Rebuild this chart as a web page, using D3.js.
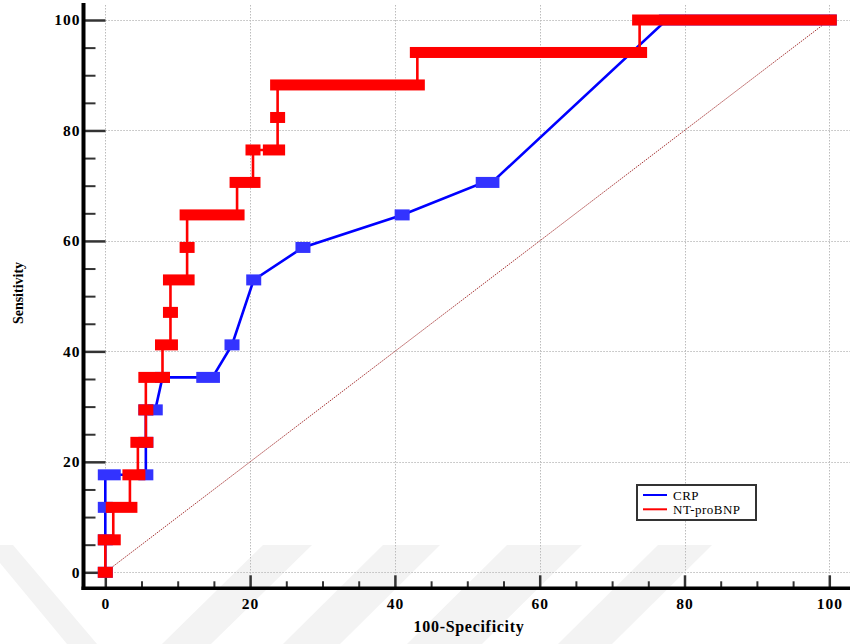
<!DOCTYPE html>
<html>
<head>
<meta charset="utf-8">
<script src="https://cdn.jsdelivr.net/npm/d3@7"></script>
<style>
  html, body { margin: 0; padding: 0; background: #fff; }
  svg { display: block; }
  text { font-family: "Liberation Serif", "Times New Roman", serif; }
</style>
</head>
<body>
<svg id="chart" width="850" height="644"></svg>
<script>
// ---------------- data ----------------
// NT-proBNP: horizontal runs of markers (sensitivity, from 100-spec, to 100-spec)
const ntSens = [0, 5.88, 11.76, 17.65, 23.53, 29.41, 35.29, 41.18, 47.06, 52.94, 58.82, 64.71, 70.59, 76.47, 76.47, 82.35, 88.24, 94.12, 100];
const ntFrom = [0, 0,    1.1,   3.4,   4.5,   5.6,   5.6,   7.9,   9.0,   9.0,   11.3,  11.3,  18.2,  20.4,  22.8,  23.8,  23.8,  43.1,  73.8];
const ntTo   = [0, 1.1,  3.4,   4.5,   5.6,   5.6,   7.9,   9.0,   9.0,   11.3,  11.3,  18.2,  20.4,  20.4,  23.8,  23.8,  43.1,  73.8,  100];

// CRP: runs of markers (sensitivity, from, to)
const crpSens = [0, 5.88, 11.76, 17.65, 17.65, 23.53, 29.41, 29.41, 35.29, 35.29, 41.18, 52.94, 58.82, 64.71, 70.59, 100];
const crpFrom = [0, 0,    0,     0,     5.6,   5.6,   5.6,   6.9,   7.9,   13.6,  17.5,  20.5,  27.3,  41.0,  52.2,  77.5];
const crpTo   = [0, 0,    0,     1.1,   5.6,   5.6,   5.6,   6.9,   7.9,   14.8,  17.5,  20.5,  27.3,  41.0,  53.4,  100];

const majorTicks = [0, 20, 40, 60, 80, 100];
const minorTicks = [5, 10, 15, 25, 30, 35, 45, 50, 55, 65, 70, 75, 85, 90, 95];
const seriesNames = ["CRP", "NT-proBNP"];
const seriesColors = ["#0000ff", "#ff0000"];
const markerColors = ["#3333ff", "#ff0000"];
const xTitle = "100-Specificity";
const yTitle = "Sensitivity";

// ---------------- drawing ----------------
const svg = d3.select("#chart");
const x = d3.scaleLinear().domain([0, 100]).range([105.3, 829.3]);
const y = d3.scaleLinear().domain([0, 100]).range([572.3, 20]);
const axisX = 83.5, axisY = 588.3;

// watermark stripes (faint background decoration)
const stripes = [
  [[-15, 545], [13, 545], [97, 644], [67, 644]],
  [[263, 545], [312, 545], [211, 644], [162, 644]],
  [[383, 545], [440, 545], [340, 644], [283, 644]],
  [[507, 545], [582, 545], [482, 644], [407, 644]],
  [[658, 545], [712, 545], [612, 644], [558, 644]]
];
svg.append("g").selectAll("polygon").data(stripes).join("polygon")
  .attr("points", d => d.map(p => p.join(",")).join(" "))
  .attr("fill", "#f3f3f3");

// grid
const grid = svg.append("g").attr("stroke", "#bcbcbc").attr("stroke-width", 1).attr("stroke-dasharray", "1.5,1.5");
grid.selectAll(".gy").data(majorTicks).join("line")
  .attr("x1", x(0)).attr("x2", 850)
  .attr("y1", d => Math.round(y(d)) + 0.5).attr("y2", d => Math.round(y(d)) + 0.5);
grid.selectAll(".gx").data(majorTicks).join("line")
  .attr("y1", 5).attr("y2", axisY - 13)
  .attr("x1", d => Math.round(x(d)) + 0.5).attr("x2", d => Math.round(x(d)) + 0.5);

// diagonal reference line
svg.append("line")
  .attr("x1", x(0)).attr("y1", y(0)).attr("x2", x(100)).attr("y2", y(100))
  .attr("stroke", "#a83838").attr("stroke-width", 1).attr("stroke-dasharray", "1.5,1");

// axes
const yMajor = d3.axisLeft(y).tickValues(majorTicks).tickSize(-22).tickPadding(3).tickFormat(d3.format("d"));
const yMinor = d3.axisLeft(y).tickValues(minorTicks).tickSize(-12).tickFormat("");
const xMajor = d3.axisBottom(x).tickValues(majorTicks).tickSize(-13).tickPadding(10).tickFormat(d3.format("d"));
const xMinor = d3.axisBottom(x).tickValues(minorTicks).tickSize(-7).tickFormat("");

function styleAxis(g, w) {
  g.select(".domain").remove();
  g.selectAll(".tick line").attr("stroke", "#333").attr("stroke-width", w);
  g.selectAll(".tick text")
    .attr("fill", "#000")
    .style("font-family", "'Liberation Serif', 'Times New Roman', serif")
    .style("font-weight", "bold")
    .style("font-size", "15.5px")
    .style("letter-spacing", "1px");
}
svg.append("g").attr("transform", `translate(${axisX},0)`).call(yMinor).call(g => styleAxis(g, 2));
svg.append("g").attr("transform", `translate(${axisX},0)`).call(yMajor).call(g => styleAxis(g, 2.5));
svg.append("g").attr("transform", `translate(0,${axisY})`).call(xMinor).call(g => styleAxis(g, 2));
svg.append("g").attr("transform", `translate(0,${axisY})`).call(xMajor).call(g => styleAxis(g, 2.5));

svg.append("line").attr("x1", axisX).attr("x2", axisX).attr("y1", 3).attr("y2", axisY + 1.7)
  .attr("stroke", "#000").attr("stroke-width", 4);
svg.append("line").attr("x1", axisX - 2).attr("x2", 850).attr("y1", axisY).attr("y2", axisY)
  .attr("stroke", "#000").attr("stroke-width", 3.4);

// axis titles
svg.append("text")
  .attr("transform", `translate(23,293) rotate(-90)`)
  .attr("text-anchor", "middle")
  .style("font-weight", "bold").style("font-size", "14px")
  .text(yTitle);
svg.append("text")
  .attr("x", 469).attr("y", 632)
  .attr("text-anchor", "middle")
  .style("font-weight", "bold").style("font-size", "16px").style("letter-spacing", "0.7px")
  .text(xTitle);

// curves
const MW = 15, MH = 11;
function runsToPoints(sens, from, to) {
  const pts = [];
  sens.forEach((s, i) => { pts.push([from[i], s]); pts.push([to[i], s]); });
  return pts;
}
const line = d3.line().x(d => x(d[0])).y(d => y(d[1]));

function drawSeries(sens, from, to, lineColor, markerColor) {
  const g = svg.append("g");
  g.append("path")
    .attr("d", line(runsToPoints(sens, from, to)))
    .attr("fill", "none").attr("stroke", lineColor).attr("stroke-width", 2.6)
    .attr("stroke-linejoin", "miter");
  g.selectAll("rect").data(sens.map((s, i) => ({ s, a: from[i], b: to[i] }))).join("rect")
    .attr("x", d => x(d.a) - MW / 2)
    .attr("width", d => x(d.b) - x(d.a) + MW)
    .attr("y", d => y(d.s) - MH / 2)
    .attr("height", MH)
    .attr("fill", markerColor);
}
drawSeries(crpSens, crpFrom, crpTo, seriesColors[0], markerColors[0]);
drawSeries(ntSens, ntFrom, ntTo, seriesColors[1], markerColors[1]);

// legend
const lg = svg.append("g");
lg.append("rect").attr("x", 637).attr("y", 485).attr("width", 119).attr("height", 35)
  .attr("fill", "#fff").attr("stroke", "#333").attr("stroke-width", 2);
seriesNames.forEach((name, i) => {
  const yy = 495 + i * 14.3;
  lg.append("line").attr("x1", 643).attr("x2", 667).attr("y1", yy).attr("y2", yy)
    .attr("stroke", seriesColors[i]).attr("stroke-width", 2);
  lg.append("text").attr("x", 673).attr("y", yy + 4.5)
    .style("font-size", "13px").style("letter-spacing", "0.5px")
    .text(name);
});
</script>
</body>
</html>
